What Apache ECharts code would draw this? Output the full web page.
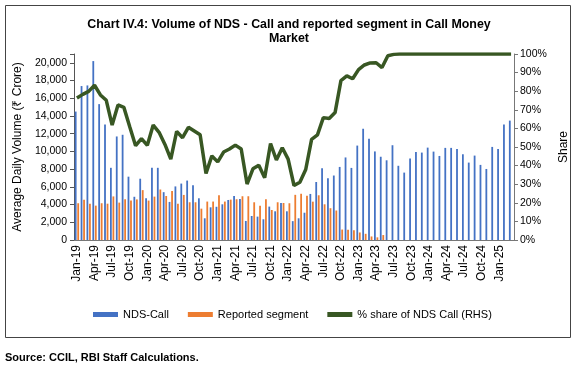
<!DOCTYPE html>
<html>
<head>
<meta charset="utf-8">
<script src="https://cdn.jsdelivr.net/npm/echarts@6/dist/echarts.min.js"></script>
<style>
html,body{margin:0;padding:0;background:#fff;}
#c{width:578px;height:368px;}
</style>
</head>
<body>
<div id="c"></div>
<script>
const categories = [
 'Jan-19','Feb-19','Mar-19','Apr-19','May-19','Jun-19','Jul-19','Aug-19','Sep-19','Oct-19','Nov-19','Dec-19',
 'Jan-20','Feb-20','Mar-20','Apr-20','May-20','Jun-20','Jul-20','Aug-20','Sep-20','Oct-20','Nov-20','Dec-20',
 'Jan-21','Feb-21','Mar-21','Apr-21','May-21','Jun-21','Jul-21','Aug-21','Sep-21','Oct-21','Nov-21','Dec-21',
 'Jan-22','Feb-22','Mar-22','Apr-22','May-22','Jun-22','Jul-22','Aug-22','Sep-22','Oct-22','Nov-22','Dec-22',
 'Jan-23','Feb-23','Mar-23','Apr-23','May-23','Jun-23','Jul-23','Aug-23','Sep-23','Oct-23','Nov-23','Dec-23',
 'Jan-24','Feb-24','Mar-24','Apr-24','May-24','Jun-24','Jul-24','Aug-24','Sep-24','Oct-24','Nov-24','Dec-24',
 'Jan-25','Feb-25','Mar-25'
];
const ndsCall = [
 14500,17380,17450,20200,15340,13040,8150,11690,11880,7150,4880,6920,
 4700,8150,8150,5400,4300,6050,6370,6710,6180,4710,2450,3690,
 3750,4030,4520,4980,4640,2150,2710,2640,2340,3770,3240,4180,
 3240,2130,2450,3080,5200,6550,8100,6980,7280,8250,9320,8140,
 10660,12560,11420,10000,9400,9000,10700,8380,7610,9190,9940,9870,
 10430,9980,9490,10400,10400,10280,9680,8740,9530,8480,8020,10510,
 10280,13030,13480
];
const reported = [
 4150,4540,4100,3880,4150,4100,4920,4220,4600,4450,4580,5630,
 4450,4900,5700,4970,5540,4100,5090,4260,4260,3540,4340,4340,
 5050,4340,4560,4600,4940,4940,4260,3880,4600,3390,4260,4180,
 4150,5100,5220,5000,4330,5050,4030,3590,3330,1180,1150,1100,
 850,700,400,300,560,0,0,0,0,0,0,0,
 0,0,0,0,0,0,0,0,0,0,0,0,
 0,0,0
];
const shareNds = [
 76.3,78.3,79.9,83.2,78.0,75.1,61.8,72.6,71.3,60.9,50.7,54.5,
 50.9,61.8,57.9,51.4,43.5,58.4,55.0,60.6,58.6,56.6,35.8,45.2,
 42.0,47.3,48.9,51.0,48.9,30.1,38.3,40.2,33.5,51.8,43.0,49.6,
 43.5,29.3,31.1,37.9,54.1,56.5,65.8,65.3,68.5,85.7,88.2,86.7,
 91.6,94.1,95.2,95.3,92.7,99.1,99.8,100,100,100,100,100,
 100,100,100,100,100,100,100,100,100,100,100,100,
 100,100,100
];
const leftTicks = [0,2000,4000,6000,8000,10000,12000,14000,16000,18000,20000];

const FONT = 'Liberation Sans, Arial, sans-serif';
const chart = echarts.init(document.getElementById('c'), null, {renderer:'canvas'});
chart.setOption({
  animation:false,
  backgroundColor:'#fff',
  title:{
    text:'Chart IV.4: Volume of NDS - Call and reported segment in Call Money\nMarket',
    left:'center', top:13,
    textStyle:{fontFamily:FONT,fontSize:12.4,fontWeight:'bold',color:'#000',lineHeight:14}
  },
  legend:{
    left:88, top:304, itemWidth:25, itemHeight:5, itemGap:19,
    textStyle:{fontFamily:FONT,fontSize:11,color:'#000'},
    data:[{name:'NDS-Call',icon:'rect'},{name:'Reported segment',icon:'rect'},{name:'% share of NDS Call (RHS)',icon:'rect'}]
  },
  grid:{left:74,right:63,top:54,bottom:128,containLabel:false},
  xAxis:{
    type:'category', data:categories, boundaryGap:true,
    axisLine:{lineStyle:{color:'#777',width:1}},
    axisTick:{interval:2,length:4,lineStyle:{color:'#777'}},
    axisLabel:{interval:2,rotate:90,fontFamily:FONT,fontSize:12,color:'#000',margin:5}
  },
  yAxis:[{
    type:'value', min:0, max:21000, interval:2000,
    name:'Average Daily Volume (₹ Crore)', nameLocation:'middle', nameGap:50,
    nameTextStyle:{fontFamily:FONT,fontSize:12,color:'#000'},
    axisLine:{show:true,lineStyle:{color:'#555'}},
    axisTick:{show:true,length:4,lineStyle:{color:'#555'}},
    splitLine:{show:false},
    axisLabel:{fontFamily:FONT,fontSize:10.5,color:'#000',margin:7,
      formatter:function(v){ return leftTicks.indexOf(v)>=0 ? v.toLocaleString('en-US') : ''; }}
  },{
    type:'value', min:0, max:100, interval:10, position:'right',
    name:'Share', nameLocation:'middle', nameGap:44, nameRotate:90,
    nameTextStyle:{fontFamily:FONT,fontSize:12,color:'#000'},
    axisLine:{show:true,lineStyle:{color:'#777'}},
    axisTick:{show:true,length:4,lineStyle:{color:'#777'}},
    splitLine:{show:false},
    axisLabel:{fontFamily:FONT,fontSize:10.5,color:'#000',margin:6,formatter:'{value}%'}
  }],
  series:[{
    name:'NDS-Call', type:'bar', data:ndsCall, yAxisIndex:0,
    barWidth:1.8, barGap:'40%', itemStyle:{color:'#4472C4'}
  },{
    name:'Reported segment', type:'bar', data:reported, yAxisIndex:0,
    barWidth:1.8, itemStyle:{color:'#ED7D31'}
  },{
    name:'% share of NDS Call (RHS)', type:'line', data:shareNds, yAxisIndex:1,
    symbol:'none', lineStyle:{color:'#385723',width:3.5}, itemStyle:{color:'#385723'}, z:5
  }],
  graphic:[{
    type:'rect', shape:{x:5.5,y:5.5,width:565,height:332},
    style:{fill:'none',stroke:'#444',lineWidth:1}, silent:true
  },{
    type:'text', left:5, top:352,
    style:{text:'Source: CCIL, RBI Staff Calculations.',font:'bold 11px Liberation Sans, Arial, sans-serif',fill:'#000'}
  }]
});
</script>
</body>
</html>
